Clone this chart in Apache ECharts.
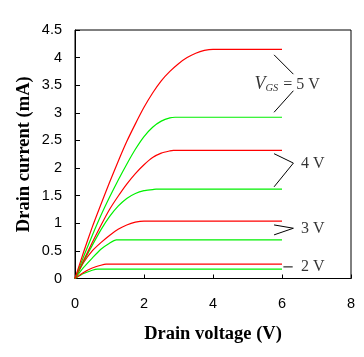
<!DOCTYPE html>
<html><head><meta charset="utf-8">
<script src="https://cdn.jsdelivr.net/npm/echarts@6/dist/echarts.min.js"></script>
<style>html,body{margin:0;padding:0;background:#fff}#c{width:364px;height:357px}</style>
</head><body><div id="c"></div>
<script>
// Drain voltage (V) / drain current (mA) readings for each curve
const red5V   = [[0,0],[0.25,0.48],[0.5,0.93],[0.75,1.34],[1.0,1.74],[1.25,2.12],[1.5,2.48],[1.75,2.80],[2.0,3.10],[2.25,3.36],[2.5,3.58],[2.75,3.75],[3.0,3.89],[3.25,4.00],[3.5,4.08],[3.75,4.13],[4.0,4.15],[6,4.15]];
const green5V = [[0,0],[0.25,0.40],[0.5,0.78],[0.75,1.14],[1.0,1.47],[1.25,1.78],[1.5,2.07],[1.75,2.34],[2.0,2.57],[2.25,2.74],[2.5,2.85],[2.75,2.91],[2.9,2.92],[6,2.92]];
const red4V   = [[0,0],[0.25,0.33],[0.5,0.65],[0.75,0.96],[1.0,1.25],[1.25,1.49],[1.5,1.71],[1.75,1.90],[2.0,2.06],[2.25,2.19],[2.5,2.27],[2.75,2.31],[2.85,2.32],[6,2.32]];
const green4V = [[0,0],[0.25,0.31],[0.5,0.60],[0.75,0.88],[1.0,1.12],[1.25,1.31],[1.5,1.45],[1.75,1.54],[2.0,1.59],[2.25,1.61],[2.35,1.62],[6,1.62]];
const red3V   = [[0,0],[0.25,0.29],[0.5,0.50],[0.75,0.65],[1.0,0.78],[1.25,0.89],[1.5,0.97],[1.75,1.02],[2.0,1.04],[6,1.04]];
const green3V = [[0,0],[0.25,0.20],[0.5,0.37],[0.75,0.53],[1.0,0.64],[1.2,0.70],[6,0.70]];
const red2V   = [[0,0],[0.25,0.11],[0.5,0.19],[0.75,0.24],[0.9,0.26],[6,0.26]];
const green2V = [[0,0],[0.25,0.09],[0.5,0.15],[0.65,0.17],[6,0.17]];

const xTicks = [0,2,4,6,8];
const yTicks = [0,0.5,1,1.5,2,2.5,3,3.5,4,4.5];

// annotation brackets (data coordinates) and labels
const bracket5 = [[5.77,4.05],[6.33,3.70],null,[6.33,3.40],[5.77,3.01]];
const bracket4 = [[5.77,2.26],[6.33,2.09],[5.77,1.66]];
const bracket3 = [[5.77,0.97],[6.33,0.91],[5.77,0.79]];
const bracket2 = [[6.04,0.21],[6.31,0.21]];
const labels = [
  {pos:[5.20,3.51], text:'{v|V}{s|GS}{n|= 5 V}'},
  {pos:[6.55,2.07], text:'{n|4 V}'},
  {pos:[6.55,0.90], text:'{n|3 V}'},
  {pos:[6.55,0.21], text:'{n|2 V}'}
];

const FONT = 'Liberation Serif';
const SANS = 'Liberation Sans';
const RED = '#ff0000', GREEN = '#00f000';
function curve(d, c){ return {type:'line', data:d, showSymbol:false, smooth:0.2, lineStyle:{color:c,width:1.2}, itemStyle:{color:c}, silent:true}; }
function brk(d){ return {type:'line', data:d, showSymbol:false, connectNulls:false, lineStyle:{color:'#000',width:1}, silent:true}; }

const chart = echarts.init(document.getElementById('c'));
chart.setOption({
  animation:false,
  backgroundColor:'#fff',
  grid:{left:75, top:30, right:13, bottom:78.5, show:true, borderColor:'#000', borderWidth:1},
  xAxis:{type:'value', min:0, max:8, interval:2,
    name:'Drain voltage (V)', nameLocation:'middle', nameGap:46, nameMoveOverlap:false,
    nameTextStyle:{fontFamily:FONT, fontWeight:'bold', fontSize:18.5, color:'#000'},
    axisLine:{lineStyle:{color:'#000',width:1}}, axisTick:{inside:true,length:4,lineStyle:{color:'#000'}},
    axisLabel:{fontFamily:SANS, fontSize:14.5, color:'#000', margin:18}, splitLine:{show:false}},
  yAxis:{type:'value', min:0, max:4.5, interval:0.5,
    name:'Drain current (mA)', nameLocation:'middle', nameGap:41, nameMoveOverlap:false,
    nameTextStyle:{fontFamily:FONT, fontWeight:'bold', fontSize:18.5, color:'#000'},
    axisLine:{show:true,lineStyle:{color:'#000',width:1}}, axisTick:{show:true,inside:true,length:5,lineStyle:{color:'#000'}},
    axisLabel:{fontFamily:SANS, fontSize:14.5, color:'#000', margin:13}, splitLine:{show:false}},
  series:[
    curve(green2V,GREEN), curve(red2V,RED), curve(green3V,GREEN), curve(red3V,RED),
    curve(green4V,GREEN), curve(red4V,RED), curve(green5V,GREEN), curve(red5V,RED),
    brk(bracket5), brk(bracket4), brk(bracket3), brk(bracket2),
    {type:'scatter', symbolSize:0, silent:true,
     data: labels.map(l=>({value:l.pos, label:{formatter:l.text}})),
     label:{show:true, position:'right', distance:0,
       rich:{
         v:{fontFamily:FONT, fontStyle:'italic', fontSize:18, color:'#000'},
         s:{fontFamily:FONT, fontStyle:'italic', fontSize:10.5, color:'#000', padding:[8,5,0,0]},
         n:{fontFamily:FONT, fontSize:16, color:'#000'}
       }}}
  ]
});
</script></body></html>
